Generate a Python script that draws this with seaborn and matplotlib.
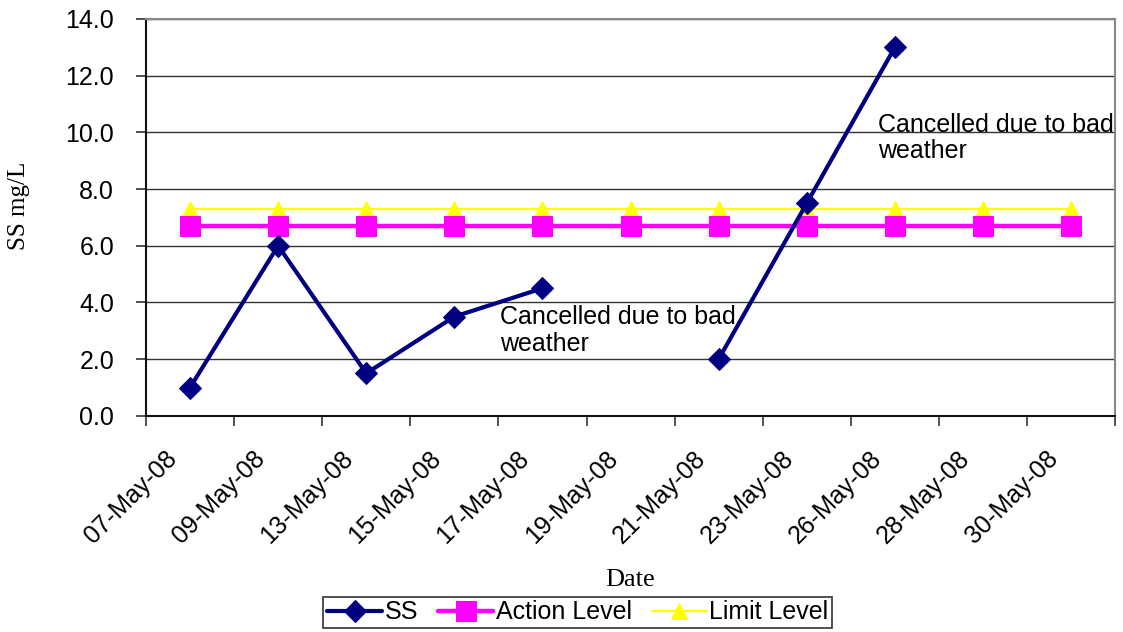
import numpy as np
import pandas as pd
import matplotlib
matplotlib.use("Agg")
import matplotlib.pyplot as plt
from matplotlib.ticker import FixedLocator, MultipleLocator
import seaborn as sns

# values
dates = ["07-May-08", "09-May-08", "13-May-08", "15-May-08", "17-May-08",
         "19-May-08", "21-May-08", "23-May-08", "26-May-08", "28-May-08",
         "30-May-08"]
ss = [1.0, 6.0, 1.5, 3.5, 4.5, np.nan, 2.0, 7.5, 13.0, np.nan, np.nan]
action_level = [6.7] * len(dates)
limit_level = [7.3] * len(dates)
note = "Cancelled due to bad\nweather"

sns.set_style("white")
plt.rcParams["font.family"] = ["Liberation Sans", "DejaVu Sans"]
plt.rcParams["text.color"] = "black"

df = pd.DataFrame({"pos": np.arange(len(dates)), "date": dates, "SS": ss,
                   "Action Level": action_level, "Limit Level": limit_level})
# separate runs of SS so the line breaks where sampling was cancelled
df["run"] = np.isnan(df["SS"]).cumsum()

fig = plt.figure(figsize=(11.23, 6.32), dpi=100)
ax = fig.add_axes([0.130, 0.342, 0.863, 0.628])

sns.lineplot(data=df, x="pos", y="Limit Level", ax=ax, color="#ffff00",
             lw=1.6, marker="^", markersize=12, markeredgecolor="#ffff00",
             label="Limit Level", zorder=3)
sns.lineplot(data=df, x="pos", y="Action Level", ax=ax, color="#ff00ff",
             lw=3.2, marker="s", markersize=14, markeredgecolor="#ff00ff",
             label="Action Level", zorder=4)
sns.lineplot(data=df.dropna(subset=["SS"]), x="pos", y="SS", units="run",
             estimator=None, ax=ax, color="#000080", lw=3, marker="D",
             markersize=11, markeredgecolor="#000080", label="SS", zorder=5)

ax.set_xlim(-0.5, len(dates) - 0.5)
ax.set_ylim(0, 14)
ax.yaxis.set_major_locator(MultipleLocator(2))
ax.set_yticklabels([f"{v:.1f}" for v in ax.get_yticks()], fontsize=18,
                   color="black")
ax.grid(axis="y", color="#333333", lw=1)
ax.set_axisbelow(True)

# labels sit a little left of the category centre, as in the original
ax.set_xticks(df["pos"] - 0.19)
ax.set_xticklabels(dates, rotation=45, ha="right", va="center",
                   rotation_mode="anchor", fontsize=18, color="black")
ax.tick_params(axis="x", which="major", length=0, pad=28, bottom=True)
ax.xaxis.set_minor_locator(FixedLocator(np.arange(-0.5, len(dates), 1)))
ax.tick_params(axis="x", which="minor", length=7, color="#333333",
               width=1.2, bottom=True)
ax.tick_params(axis="y", length=7, color="#333333", width=1.2, left=True,
               pad=16)

for side in ["left", "bottom"]:
    ax.spines[side].set_color("#111111")
    ax.spines[side].set_linewidth(1.5)
for side in ["top", "right"]:
    ax.spines[side].set_color("#888888")
    ax.spines[side].set_linewidth(1.5)

ax.set_xlabel("Date", family=["Liberation Serif", "DejaVu Serif"],
              fontsize=19, color="black")
ax.xaxis.set_label_coords(0.5, -0.385)
ax.set_ylabel("SS mg/L", family=["Liberation Serif", "DejaVu Serif"],
              fontsize=18, color="black")
ax.yaxis.set_label_coords(-0.12, 0.53)

ax.text(0.365, 0.28, note, transform=ax.transAxes, fontsize=18,
        va="top", ha="left", linespacing=1.15, color="black")
ax.text(0.755, 0.764, note, transform=ax.transAxes, fontsize=18,
        va="top", ha="left", linespacing=1.15, color="black")

handles, labels = ax.get_legend_handles_labels()
ax.get_legend().remove()
order = [labels.index(n) for n in ["SS", "Action Level", "Limit Level"]]
leg = fig.legend([handles[i] for i in order], [labels[i] for i in order],
                 loc="upper center", bbox_to_anchor=(0.5145, 0.056), ncol=3,
                 fontsize=18, frameon=True, fancybox=False, borderpad=0.15,
                 handlelength=2.2, handletextpad=0.1, columnspacing=0.8,
                 borderaxespad=0)
leg.get_frame().set_edgecolor("black")
leg.get_frame().set_linewidth(1.2)

fig.savefig("out.png", dpi=100)
